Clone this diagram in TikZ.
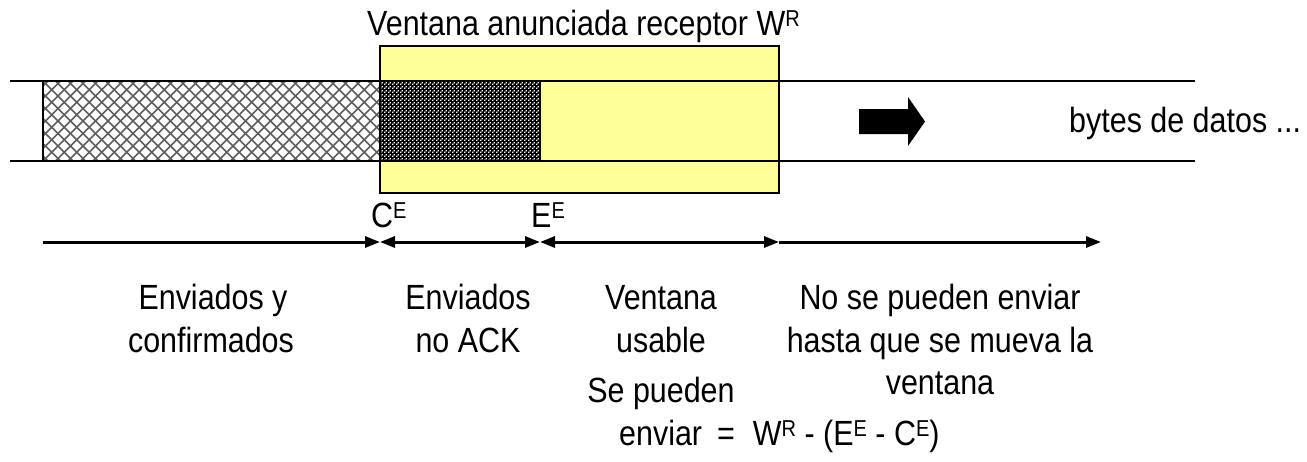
\documentclass[tikz,border=0pt]{standalone}
\usepackage{fontspec}
\setmainfont{Liberation Sans}[FakeStretch=0.87]
\usetikzlibrary{arrows.meta,patterns}
\definecolor{winyellow}{HTML}{FFFF99}
\definecolor{hatchgray}{HTML}{5E5E5E}
\pgfdeclarepatternformonly{finedots}{\pgfpointorigin}{\pgfqpoint{4pt}{4pt}}{\pgfqpoint{4pt}{4pt}}{%
  \pgfpathrectangle{\pgfpointorigin}{\pgfqpoint{1.6pt}{1.6pt}}%
  \pgfpathrectangle{\pgfqpoint{2pt}{2pt}}{\pgfqpoint{1.6pt}{1.6pt}}%
  \pgfusepath{fill}}
\newcommand\sps[1]{\raisebox{8.5pt}{\fontsize{23}{23}\selectfont #1}}
\begin{document}
\begin{tikzpicture}[x=1pt,y=-1pt,
  txt/.style={inner sep=0pt,font=\fontsize{35}{43}\selectfont},
  stripline/.style={line width=1.6pt},
  hatchline/.style={draw=hatchgray,line width=1.5pt},
  arr/.style={line width=3pt,-{Triangle[length=15pt,width=11pt]}},
  arrb/.style={line width=3pt,{Triangle[length=15pt,width=11pt]}-{Triangle[length=15pt,width=11pt]}}]
\useasboundingbox (0,0) rectangle (1307,461);
% window
\path[fill=winyellow] (380,46) rectangle (779,193);
% strip lines
\coordinate (sl1) at (10,81); \coordinate (sr1) at (1195,81);
\coordinate (sl2) at (10,161); \coordinate (sr2) at (1195,161);
\draw[stripline] (sl1) -- (sr1);
\draw[stripline] (sl2) -- (sr2);
% hatched part
\begin{scope}
\clip (43,81) rectangle (380,161);
\fill[white] (43,81) rectangle (380,161);
\foreach \i in {-7,...,28} {
  \draw[hatchline] (43+\i*12.5,161) -- ++(80,-80);
  \draw[hatchline] (43+\i*12.5,81) -- ++(80,80);
}
\end{scope}
\draw[line width=2pt] (43,81) rectangle (380,161);
% checker part
\fill[black] (380,81) rectangle (540,161);
\fill[pattern=finedots,pattern color=white] (380,81) rectangle (540,161);
\draw[line width=2.4pt] (380,81) rectangle (540,161);
% window border
\draw[line width=2.5pt] (380,46) rectangle (779,193);
% block arrow
\fill[black] (859,109) -- (908,109) -- (908,97) -- (925,121.5) -- (908,146) -- (908,134) -- (859,134) -- cycle;
% texts
\node[txt,anchor=base west] (title) at (367,35) {Ventana anunciada receptor W\sps{R}};
\node[txt,anchor=base west] (bytes) at (1069,132) {bytes de datos ...};
\node[txt,anchor=base west] (ce) at (371,227) {C\sps{E}};
\node[txt,anchor=base west] (ee) at (531,227) {E\sps{E}};
% dimension arrows
\coordinate (a0) at (43,242);
\coordinate (a1) at (380,242);
\coordinate (a2) at (540,242);
\coordinate (a3) at (779,242);
\coordinate (a4) at (1101,242);
\draw[arr] (a0) -- (a1);
\draw[arrb] (a1) -- (a2);
\draw[arrb] (a2) -- (a3);
\draw[arr] (a3) -- (a4);
% labels
\node[txt,anchor=base] (l1a) at (213,309) {Enviados y};
\node[txt,anchor=base] (l1b) at (211,352) {confirmados};
\node[txt,anchor=base] (l2a) at (468,309) {Enviados};
\node[txt,anchor=base] (l2b) at (468,352) {no ACK};
\node[txt,anchor=base] (l3a) at (661,309) {Ventana};
\node[txt,anchor=base] (l3b) at (661,352) {usable};
\node[txt,anchor=base] (l4a) at (940,309) {No se pueden enviar};
\node[txt,anchor=base] (l4b) at (940,352) {hasta que se mueva la};
\node[txt,anchor=base] (l4c) at (940,394) {ventana};
\node[txt,anchor=base] (l5a) at (661,402) {Se pueden};
\node[txt,anchor=base west] (l5b) at (619,445) {enviar\hspace{15pt}=\hspace{18pt}W\sps{R} - (E\sps{E} - C\sps{E})};
\end{tikzpicture}
\end{document}
